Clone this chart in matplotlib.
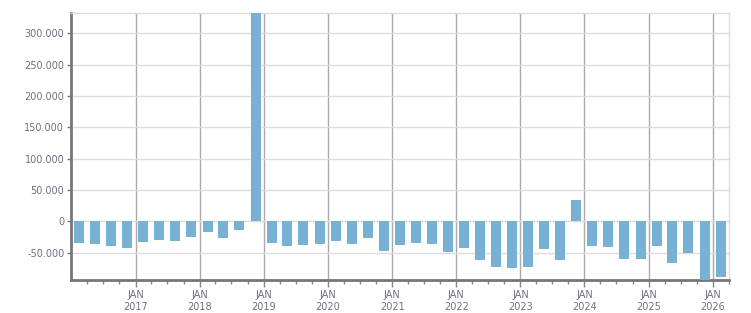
import pandas as pd
import matplotlib
matplotlib.use("Agg")
import matplotlib.pyplot as plt
import matplotlib.dates as mdates
from matplotlib.ticker import FuncFormatter, FixedLocator

# quarterly values, 2016 Q1 .. 2026 Q1 (bars centred on middle month)
quarters = pd.date_range("2016-02-01", periods=41, freq="3MS") + pd.Timedelta(days=14)
values = [
    -34600, -36200, -39400, -42600,   # 2016
    -33200, -30000, -31600, -25300,   # 2017
    -17300, -26800, -14100, 345000,   # 2018
    -34800, -39600, -38000, -36400,   # 2019
    -31600, -36400, -26900, -47600,   # 2020
    -38000, -34800, -36400, -49200,   # 2021
    -42800, -62000, -73100, -74700,   # 2022
    -73100, -44400, -62000, 34000,    # 2023
    -39600, -41200, -60300, -60300,   # 2024
    -39600, -66700, -50800, -98000,   # 2025
    -89100,                           # 2026
]
yticks = [-50000, 0, 50000, 100000, 150000, 200000, 250000, 300000]
years = list(range(2017, 2027))

text_col = "#746c80"

fig = plt.figure(figsize=(7.51, 3.13), dpi=100)
ax = fig.add_axes([0.0949, 0.1054, 0.8754, 0.8521])

ax.bar(quarters, values, width=57, color="#78b1d4", zorder=3)

ax.set_xlim(pd.Timestamp("2016-01-01"), pd.Timestamp("2026-04-01"))
ax.set_ylim(-93700, 332000)

ax.yaxis.set_major_locator(FixedLocator(yticks))
ax.yaxis.set_major_formatter(FuncFormatter(lambda v, p: f"{v:,.0f}".replace(",", ".")))
ax.set_xticks([pd.Timestamp(f"{y}-01-01") for y in years])
ax.set_xticklabels([f"JAN\n{y}" for y in years])
ax.xaxis.set_minor_locator(mdates.MonthLocator(bymonth=[4, 7, 10]))

ax.grid(axis="y", color="#dddddd", linewidth=1, zorder=0)
ax.grid(axis="x", which="major", color="#aaaaaa", linewidth=1, zorder=0)

for s in ["top", "right"]:
    ax.spines[s].set_color("#dddddd")
    ax.spines[s].set_linewidth(1)
for s in ["left", "bottom"]:
    ax.spines[s].set_color("#777777")
    ax.spines[s].set_linewidth(2)

ax.tick_params(axis="y", length=3, width=1, color="#777777", labelsize=7,
               labelcolor=text_col, pad=2)
ax.tick_params(axis="x", which="major", length=5, width=1, color="#888888",
               labelsize=7, labelcolor=text_col, pad=2)
ax.tick_params(axis="x", which="minor", length=3, width=1, color="#888888")
for lab in ax.get_xticklabels():
    lab.set_horizontalalignment("center")
    lab.set_linespacing(1.3)

fig.savefig("out.png", dpi=100)
